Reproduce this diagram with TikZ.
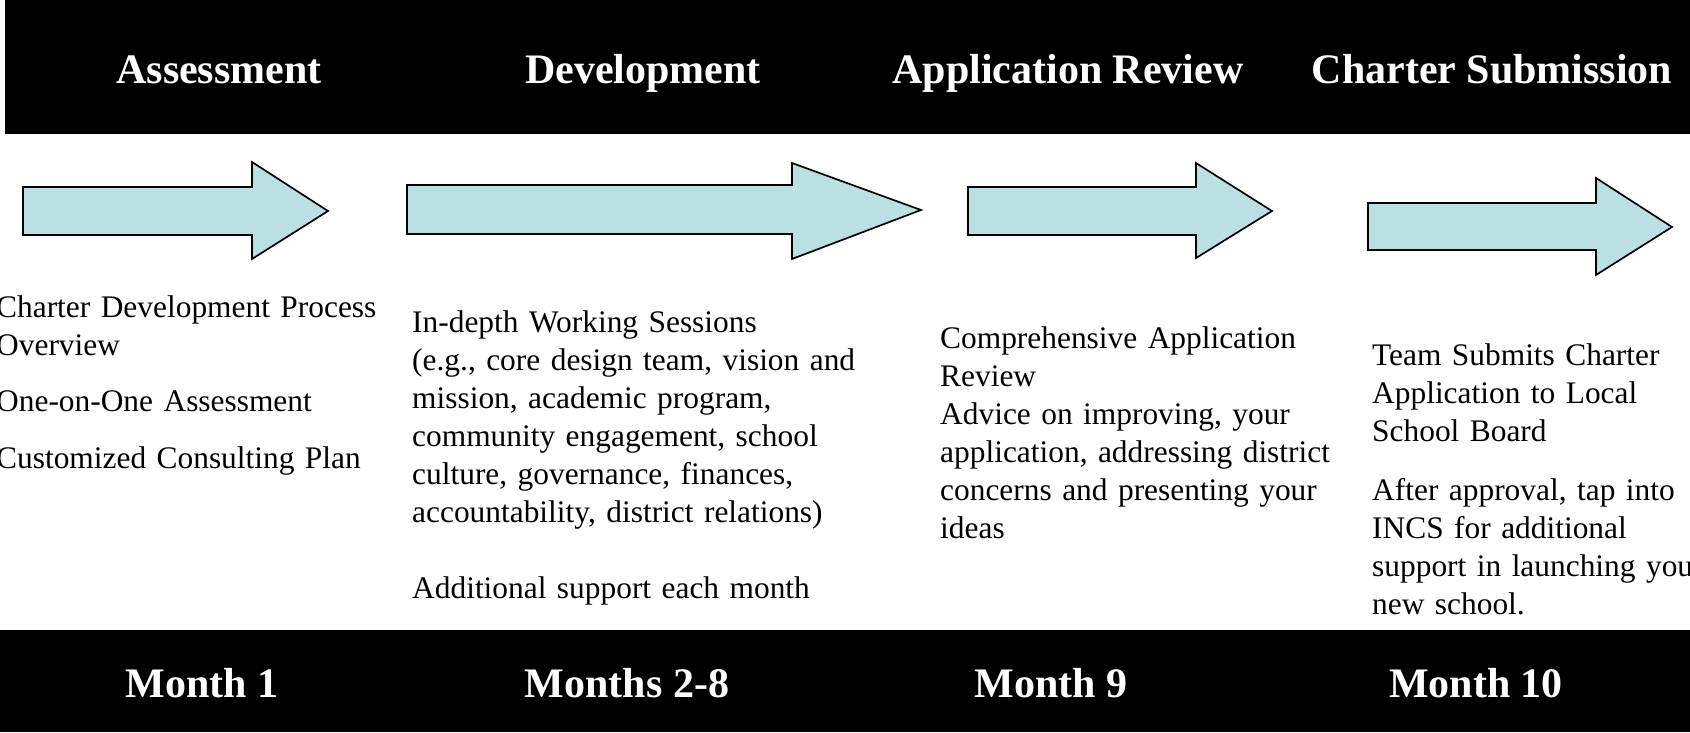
\documentclass[tikz,border=0pt]{standalone}
\usepackage{fontspec}
\setmainfont{Liberation Serif}
\definecolor{arrowfill}{HTML}{BBE0E3}
\begin{document}
\begin{tikzpicture}[x=1pt,y=-1pt,
  bar/.style={fill=black,draw=none},
  title/.style={text=white,font=\fontsize{42}{48}\selectfont\bfseries,anchor=base,inner sep=0pt},
  body/.style={font=\fontsize{31.4}{38}\selectfont,anchor=base west,align=left,inner sep=0pt,text width=600pt},
  stagearrow/.style={fill=arrowfill,draw=black,line width=1.7pt,line join=miter}]
\clip (0,0) rectangle (1690,732);
\fill[white] (0,0) rectangle (1690,732);
% bars
\fill[bar] (5,0) rectangle (1690,134);
\fill[bar] (0,630) rectangle (1690,732);
% titles
\node[title] (t1) at (219,83) {Assessment};
\node[title] (t2) at (643,83) {Development};
\node[title] (t3) at (1068,83) {Application Review};
\node[title] (t4) at (1492,83) {Charter Submission};
% arrows
\draw[stagearrow] (23,187) -- (252,187) -- (252,162) -- (328,211) -- (252,259) -- (252,235) -- (23,235) -- cycle;
\draw[stagearrow] (407,185) -- (792,185) -- (792,163) -- (921,210) -- (792,259) -- (792,234) -- (407,234) -- cycle;
\draw[stagearrow] (968,187) -- (1196,187) -- (1196,163) -- (1272,211) -- (1196,258) -- (1196,235) -- (968,235) -- cycle;
\draw[stagearrow] (1368,203) -- (1596,203) -- (1596,178) -- (1672,227) -- (1596,275) -- (1596,250) -- (1368,250) -- cycle;
% body texts
\node[body] (b1) at (-4,317) {Charter Development Process\\Overview\\[18pt]One-on-One Assessment\\[19pt]Customized Consulting Plan};
\node[body] (b2) at (412,332) {In-depth Working Sessions\\(e.g., core design team, vision and\\mission, academic program,\\community engagement, school\\culture, governance, finances,\\accountability, district relations)\\[38pt]Additional support each month};
\node[body] (b3) at (940,348) {Comprehensive Application\\Review\\Advice on improving, your\\application, addressing district\\concerns and presenting your\\ideas};
\node[body] (b4) at (1372,365) {Team Submits Charter\\Application to Local\\School Board\\[21pt]After approval, tap into\\INCS for additional\\support in launching your\\new school.};
% bottom labels
\node[title] (m1) at (202,697) {Month 1};
\node[title] (m2) at (627,697) {Months 2-8};
\node[title] (m3) at (1051,697) {Month 9};
\node[title] (m4) at (1476,697) {Month 10};
\end{tikzpicture}
\end{document}
